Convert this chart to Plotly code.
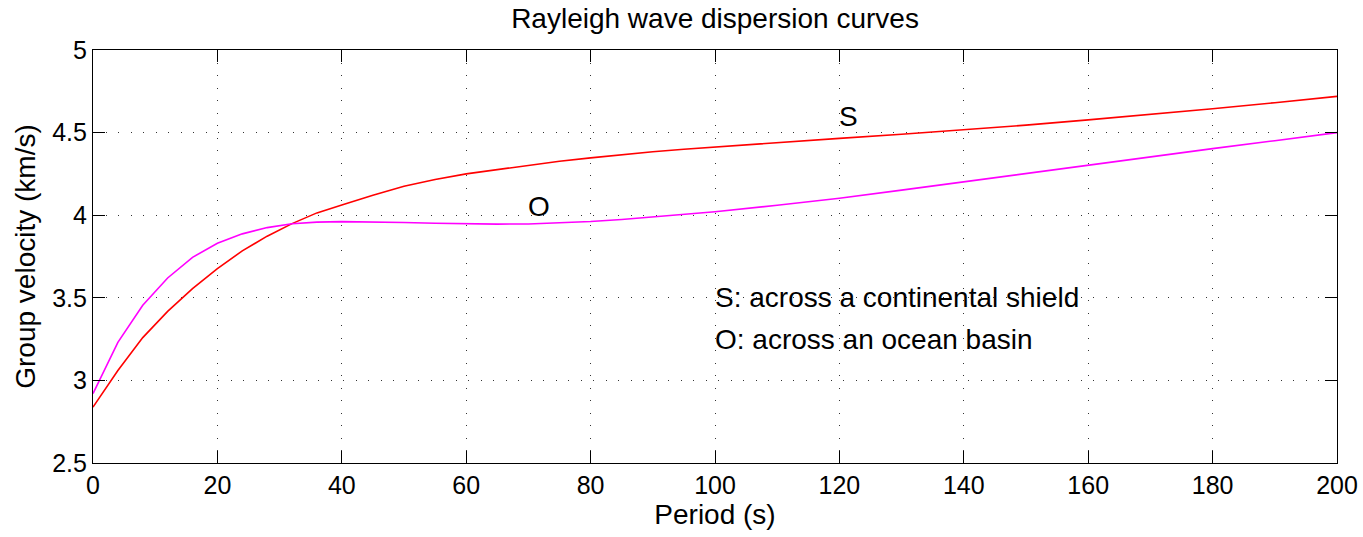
import plotly.graph_objects as go

# Shield (S) curve
period_s = [0, 4, 8, 12, 16, 20, 24, 28, 32, 36, 40, 45, 50, 55, 60, 65, 70, 75, 80, 85, 90, 95, 100,
            110, 120, 130, 140, 150, 160, 170, 180, 190, 200]
vel_s = [2.838, 3.06, 3.259, 3.418, 3.556, 3.677, 3.784, 3.873, 3.949, 4.014, 4.062, 4.121, 4.175,
         4.216, 4.25, 4.277, 4.303, 4.327, 4.347, 4.367, 4.384, 4.399, 4.413,
         4.438, 4.465, 4.49, 4.516, 4.545, 4.577, 4.61, 4.644, 4.681, 4.719]

# Ocean (O) curve
period_o = [0, 4, 8, 12, 16, 20, 24, 28, 32, 36, 40, 45, 50, 55, 60, 65, 70, 75, 80, 85, 90, 95, 100,
            110, 120, 130, 140, 150, 160, 170, 180, 190, 200]
vel_o = [2.92, 3.23, 3.455, 3.62, 3.745, 3.83, 3.887, 3.925, 3.948, 3.958, 3.961, 3.96, 3.956,
         3.951, 3.947, 3.946, 3.947, 3.953, 3.962, 3.974, 3.99, 4.006, 4.021,
         4.06, 4.103, 4.152, 4.202, 4.255, 4.306, 4.354, 4.403, 4.451, 4.50]

x_ticks = [0, 20, 40, 60, 80, 100, 120, 140, 160, 180, 200]
y_ticks = [2.5, 3, 3.5, 4, 4.5, 5]

FONT = "Liberation Sans, Arial, Helvetica, sans-serif"
FS_TICK = 25
FS_TEXT = 28

fig = go.Figure()
fig.add_trace(go.Scatter(x=period_s, y=vel_s, mode="lines",
                         line=dict(color="#ff0000", width=1.6), showlegend=False))
fig.add_trace(go.Scatter(x=period_o, y=vel_o, mode="lines",
                         line=dict(color="#ff00ff", width=1.6), showlegend=False))

ann = [
    (120, 4.6, "S"),
    (70, 4.05, "O"),
    (100, 3.5, "S: across a continental shield"),
    (100, 3.25, "O: across an ocean basin"),
]
for x, y, t in ann:
    fig.add_annotation(x=x, y=y, text=t, showarrow=False, xanchor="left", yanchor="middle",
                       font=dict(family=FONT, size=FS_TEXT, color="black"), xshift=-2)

axis_common = dict(
    showline=True, linecolor="black", linewidth=1.2, mirror="ticks",
    ticks="inside", ticklen=12, tickwidth=1.2, tickcolor="black",
    showgrid=True, gridcolor="#333333", gridwidth=1, griddash="1px,11.5px",
    zeroline=False, tickfont=dict(family=FONT, size=FS_TICK, color="black"),
    automargin=False,
)

fig.update_xaxes(range=[0, 200], tickvals=x_ticks, ticktext=[str(v) for v in x_ticks],
                 title=dict(text="Period (s)", font=dict(family=FONT, size=FS_TEXT, color="black"), standoff=2),
                 **axis_common)
fig.update_yaxes(range=[2.5, 5], tickvals=y_ticks, ticktext=["2.5", "3", "3.5", "4", "4.5", "5"],
                 title=dict(text="Group velocity (km/s)", font=dict(family=FONT, size=FS_TEXT, color="black"), standoff=8),
                 **axis_common)

fig.update_layout(
    width=1363, height=537,
    margin=dict(l=93, r=26, t=50, b=74),
    plot_bgcolor="white", paper_bgcolor="white",
    title=dict(text="Rayleigh wave dispersion curves", x=0.5, xref="paper", xanchor="center",
               y=1 - 18 / 537, yref="container", yanchor="middle",
               font=dict(family=FONT, size=FS_TEXT, color="black")),
    font=dict(family=FONT, size=FS_TICK, color="black"),
)

fig.write_html("out.html")
